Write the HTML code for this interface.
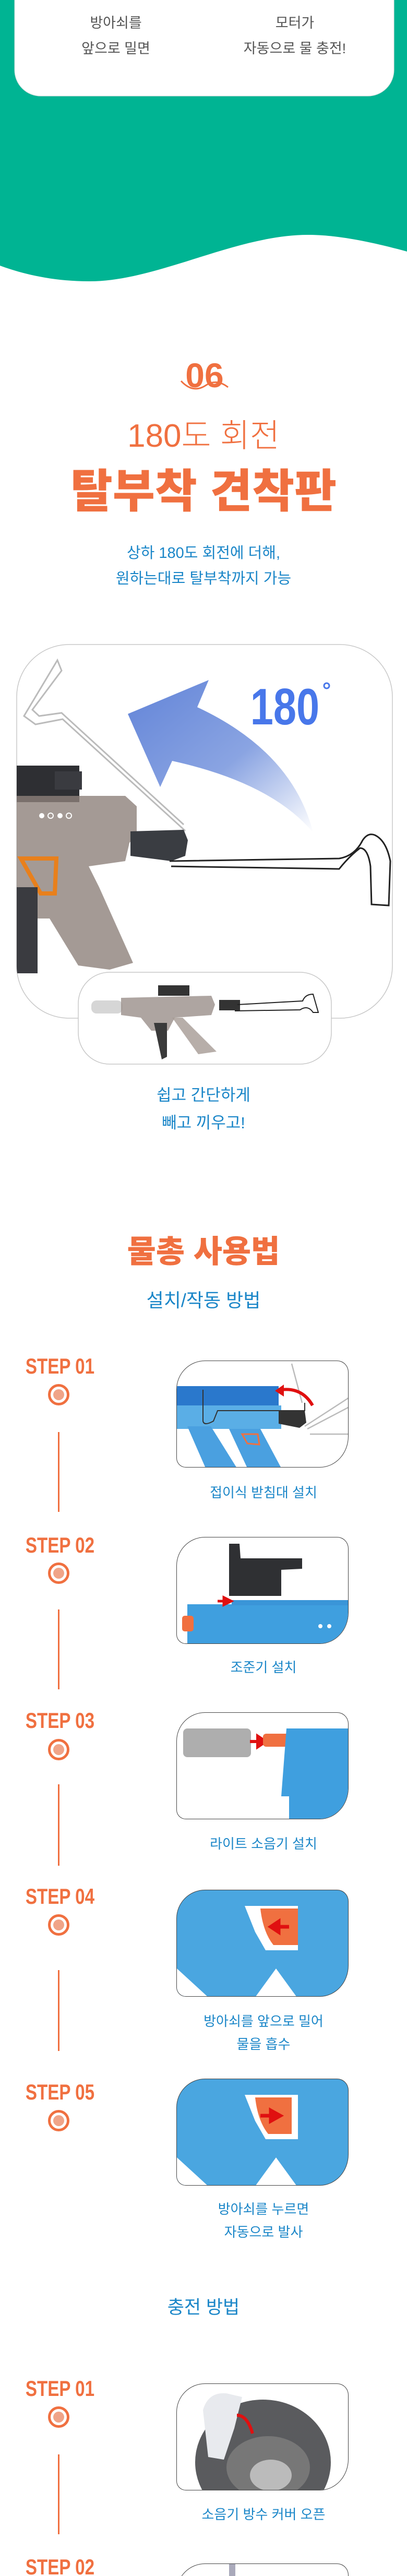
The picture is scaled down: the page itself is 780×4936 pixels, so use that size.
<!DOCTYPE html>
<html><head><meta charset="utf-8">
<style>
*{margin:0;padding:0;box-sizing:border-box}
html,body{width:780px;height:4936px;overflow:hidden;background:#fff}
body{position:relative;font-family:"Liberation Sans","Noto Sans CJK KR",sans-serif}
.t{position:absolute;left:0;width:780px;text-align:center;white-space:nowrap}
.g{color:#555;font-size:27px;line-height:49px}
.b{color:#1a86c8;font-size:29px;line-height:49px}
.c{color:#1a86c8;font-size:26px;line-height:44px;left:115px}
.o{color:#f07040}
.step{position:absolute;left:15px;width:200px;text-align:center;color:#f07040;font-weight:700;font-size:42px;line-height:42px;transform:scaleX(.79);font-family:"Liberation Sans",sans-serif}
.dot{position:absolute;left:92px;width:41px;height:41px;border:5px solid #f07040;border-radius:50%}
.dot:after{content:"";position:absolute;left:5px;top:5px;width:21px;height:21px;border-radius:50%;background:#f0a488}
.line{position:absolute;left:111px;width:3px;background:#f07040}
.card{position:absolute;left:338px;width:330px;height:205px;border:1.5px solid #444;border-radius:55px 22px 55px 18px/55px 22px 60px 18px;overflow:hidden;background:#fff}
.card svg{position:absolute;left:0;top:0}
</style></head><body>

<svg width="780" height="4936" style="position:absolute;left:0;top:0">
<defs>
<linearGradient id="ar" x1="0" y1="0" x2="1" y2="1">
<stop offset="0" stop-color="#6284d8"/><stop offset=".55" stop-color="#8aa4e2"/><stop offset="1" stop-color="#fff"/></linearGradient>
<clipPath id="bc"><rect x="32" y="1235" width="720" height="716" rx="100"/></clipPath>
</defs>
<path d="M0,0 H780 V482 C700,460 640,450 590,450 C450,450 300,540 170,539 C90,539 30,520 0,509 Z" fill="#00b493"/>
<rect x="28" y="-60" width="727" height="244" rx="50" fill="#fff" stroke="#ddd"/>
<!-- 06 -->
<text x="392" y="742" text-anchor="middle" font-family="Liberation Sans" font-weight="700" font-size="66" fill="#f07040">06</text>
<path d="M347,730 Q370,755 395,738 Q415,725 437,742" fill="none" stroke="#f07040" stroke-width="3"/>
<!-- big card -->
<rect x="32" y="1235" width="720" height="716" rx="100" fill="#fff" stroke="#c8c8c8" stroke-width="1.5"/>
<g clip-path="url(#bc)">
<path d="M245,1368 L400,1303 L378,1355 Q560,1440 600,1595 Q520,1500 330,1458 L307,1508 Z" fill="url(#ar)"/>
<polyline points="355,1592 120,1378 68,1388 46,1372 110,1265 118,1285 62,1360 75,1372 118,1366 352,1580" fill="none" stroke="#bbb" stroke-width="3"/>
<rect x="32" y="1467" width="120" height="70" fill="#2e2f33"/>
<rect x="105" y="1478" width="52" height="35" fill="#3a3b40"/>
<path d="M32,1525 L240,1525 L262,1545 L262,1600 L248,1615 L240,1650 L170,1660 L190,1700 L255,1845 L210,1858 L150,1850 L95,1760 L60,1760 L60,1860 L32,1860 Z" fill="#8d817b" opacity=".8"/>
<path d="M40,1645 L108,1645 L105,1712 L78,1712 Z" fill="none" stroke="#e8801c" stroke-width="8"/>
<rect x="32" y="1700" width="40" height="165" fill="#3a3b40"/>
<path d="M250,1593 L352,1590 L360,1610 L355,1640 L328,1650 L250,1640 Z" fill="#3a3d42"/>
<g fill="#fff"><circle cx="80" cy="1563" r="5"/><circle cx="97" cy="1563" r="5" fill="none" stroke="#fff" stroke-width="2"/><circle cx="115" cy="1563" r="5"/><circle cx="132" cy="1563" r="5" fill="none" stroke="#fff" stroke-width="2"/></g>
<path d="M325,1650 L650,1645 Q680,1640 695,1610 Q705,1595 718,1600 Q740,1610 748,1650 L745,1735 L712,1733 L710,1660 Q705,1625 690,1625 Q670,1640 650,1665 L328,1660" fill="none" stroke="#222" stroke-width="3"/>
</g>
<text x="546" y="1388" text-anchor="middle" font-family="Liberation Sans" font-weight="700" font-size="98" fill="#4877ea" transform="translate(546 0) scale(.81 1) translate(-546 0)">180</text>
<circle cx="626" cy="1314" r="5" fill="none" stroke="#4877ea" stroke-width="3"/>
<!-- sub card -->
<rect x="150" y="1863" width="485" height="176" rx="60" fill="#fff" stroke="#c8c8c8" stroke-width="1.5"/>
<rect x="175" y="1917" width="60" height="25" rx="10" fill="#ccc" opacity=".8"/>
<path d="M232,1912 L405,1908 L412,1925 L405,1945 L335,1950 L322,1975 L290,1975 L270,1950 L232,1945 Z" fill="#9a8f8a" opacity=".8"/>
<rect x="303" y="1888" width="60" height="20" fill="#333"/>
<path d="M295,1960 L320,1960 L320,2025 L310,2030 Z" fill="#3a3a3a"/>
<path d="M330,1950 L350,1950 L415,2015 L380,2020 Z" fill="#a59a94" opacity=".8"/>
<rect x="420" y="1916" width="40" height="20" fill="#333"/>
<path d="M455,1925 L580,1918 Q585,1905 600,1905 L610,1940 L600,1940 Q590,1925 575,1935 L450,1937" fill="none" stroke="#222" stroke-width="2"/>
</svg>

<!-- top texts -->
<div class="t g" style="left:-168px;top:20px">방아쇠를<br>앞으로 밀면</div>
<div class="t g" style="left:175px;top:20px">모터가<br>자동으로 물 충전!</div>
<div class="t o" style="top:798px;font-size:62px;line-height:76px;font-weight:300">180도 회전</div>
<div class="t o" style="top:892px;font-size:88px;line-height:100px;font-weight:900">탈부착 견착판</div>
<div class="t b" style="top:1036px">상하 180도 회전에 더해,<br>원하는대로 탈부착까지 가능</div>
<div class="t b" style="top:2072px;font-size:31px;line-height:53px">쉽고 간단하게<br>빼고 끼우고!</div>

<div class="t o" style="top:2364px;font-size:60px;line-height:70px;font-weight:900">물총 사용법</div>
<div class="t b" style="top:2470px;font-size:36px;line-height:44px">설치/작동 방법</div>

<!-- steps -->
<div class="step" style="top:2597px">STEP 01</div><div class="dot" style="top:2652px"></div><div class="line" style="top:2744px;height:153px"></div>
<div class="card" style="top:2607px"><svg width="330" height="205">
<rect x="0" y="48" width="195" height="42" fill="#2a78cc"/><rect x="0" y="85" width="200" height="45" fill="#5aaee6"/>
<path d="M20,125 L65,125 L115,205 L55,205 Z" fill="#4aa0e0"/><path d="M100,130 L160,130 L200,205 L135,205 Z" fill="#4aa0e0"/>
<path d="M125,140 L155,140 L158,160 L135,158 Z" fill="none" stroke="#f07040" stroke-width="3"/>
<path d="M195,95 L245,95 L248,118 L235,128 L195,120 Z" fill="#333"/>
<path d="M50,55 L50,115 Q52,125 70,115 L78,95 L245,95 L245,80" fill="none" stroke="#333" stroke-width="2"/>
<path d="M245,125 L330,70 M250,130 L330,88 M255,140 L330,140 M240,80 L220,5" stroke="#bbb" stroke-width="2.5" fill="none"/>
<path d="M260,85 Q240,50 200,55" fill="none" stroke="#e01010" stroke-width="6"/><path d="M188,57 L205,45 L205,68 Z" fill="#e01010"/>
</svg></div>
<div class="t c" style="top:2838px">접이식 받침대 설치</div>

<div class="step" style="top:2940px">STEP 02</div><div class="dot" style="top:2994px"></div><div class="line" style="top:3084px;height:153px"></div>
<div class="card" style="top:2945px"><svg width="330" height="205">
<path d="M100,12 L120,12 L122,40 L240,40 L240,60 L200,62 L200,112 L100,112 Z" fill="#2f3033"/>
<rect x="20" y="128" width="310" height="77" fill="#3f9fdf"/><rect x="105" y="120" width="225" height="10" fill="#3a95d8"/>
<rect x="10" y="150" width="22" height="30" rx="5" fill="#f07040"/>
<path d="M78,122 L95,122 M90,115 L104,122 L90,129 Z" stroke="#e01010" stroke-width="5" fill="#e01010"/>
<circle cx="275" cy="170" r="4" fill="#fff"/><circle cx="292" cy="170" r="4" fill="#fff"/>
</svg></div>
<div class="t c" style="top:3173px">조준기 설치</div>

<div class="step" style="top:3276px">STEP 03</div><div class="dot" style="top:3332px"></div><div class="line" style="top:3419px;height:156px"></div>
<div class="card" style="top:3281px"><svg width="330" height="205">
<rect x="12" y="30" width="130" height="55" rx="8" fill="#8c8c8c" opacity=".7"/>
<path d="M140,55 L160,55 M155,45 L170,55 L155,65 Z" stroke="#e01010" stroke-width="6" fill="#e01010"/>
<rect x="165" y="40" width="50" height="25" rx="6" fill="#f07040"/>
<path d="M210,30 L330,30 L330,205 L215,205 L215,160 L200,160 Z" fill="#3f9fdf"/>
</svg></div>
<div class="t c" style="top:3511px">라이트 소음기 설치</div>

<div class="step" style="top:3613px">STEP 04</div><div class="dot" style="top:3668px"></div><div class="line" style="top:3775px;height:155px"></div>
<div class="card" style="top:3621px;background:#4aa6e0"><svg width="330" height="205">
<path d="M130,30 L232,30 L232,115 L170,115 L150,80 Z" fill="#fff"/>
<path d="M160,35 L232,35 L232,105 L185,105 Q165,80 160,35 Z" fill="#f07040"/>
<path d="M215,70 L190,70 M195,60 L180,70 L195,80 Z" stroke="#e01010" stroke-width="7" fill="#e01010"/>
<path d="M0,205 L0,150 L60,205 Z M150,205 L190,150 L230,205 Z" fill="#fff"/>
</svg></div>
<div class="t c" style="top:3851px">방아쇠를 앞으로 밀어<br>물을 흡수</div>

<div class="step" style="top:3988px">STEP 05</div><div class="dot" style="top:4043px"></div>
<div class="card" style="top:3983px;background:#4aa6e0"><svg width="330" height="205">
<path d="M130,30 L232,30 L232,115 L170,115 L150,80 Z" fill="#fff"/>
<path d="M150,35 L220,35 L220,105 L175,105 Q155,80 150,35 Z" fill="#f07040"/>
<path d="M160,70 L185,70 M180,60 L198,70 L180,80 Z" stroke="#e01010" stroke-width="7" fill="#e01010"/>
<path d="M0,205 L0,150 L60,205 Z M150,205 L190,150 L230,205 Z" fill="#fff"/>
</svg></div>
<div class="t c" style="top:4211px">방아쇠를 누르면<br>자동으로 발사</div>

<div class="t b" style="top:4400px;font-size:35px;line-height:44px">충전 방법</div>

<div class="step" style="top:4556px">STEP 01</div><div class="dot" style="top:4611px"></div><div class="line" style="top:4703px;height:153px"></div>
<div class="card" style="top:4567px"><svg width="330" height="205">
<ellipse cx="165" cy="150" rx="130" ry="120" fill="#5a5b5e"/>
<ellipse cx="175" cy="160" rx="80" ry="60" fill="#777"/>
<ellipse cx="180" cy="175" rx="40" ry="30" fill="#bbb"/>
<path d="M50,50 Q60,15 95,18 L125,25 L110,85 L90,145 L60,140 Z" fill="#e8eaee"/>
<path d="M145,95 Q135,60 115,60" fill="none" stroke="#e01010" stroke-width="6"/>
</svg></div>
<div class="t c" style="top:4796px">소음기 방수 커버 오픈</div>

<div class="step" style="top:4898px">STEP 02</div>
<div class="card" style="top:4912px"><svg width="330" height="205"><rect x="100" y="0" width="12" height="30" fill="#aab"/></svg></div>
</body></html>
